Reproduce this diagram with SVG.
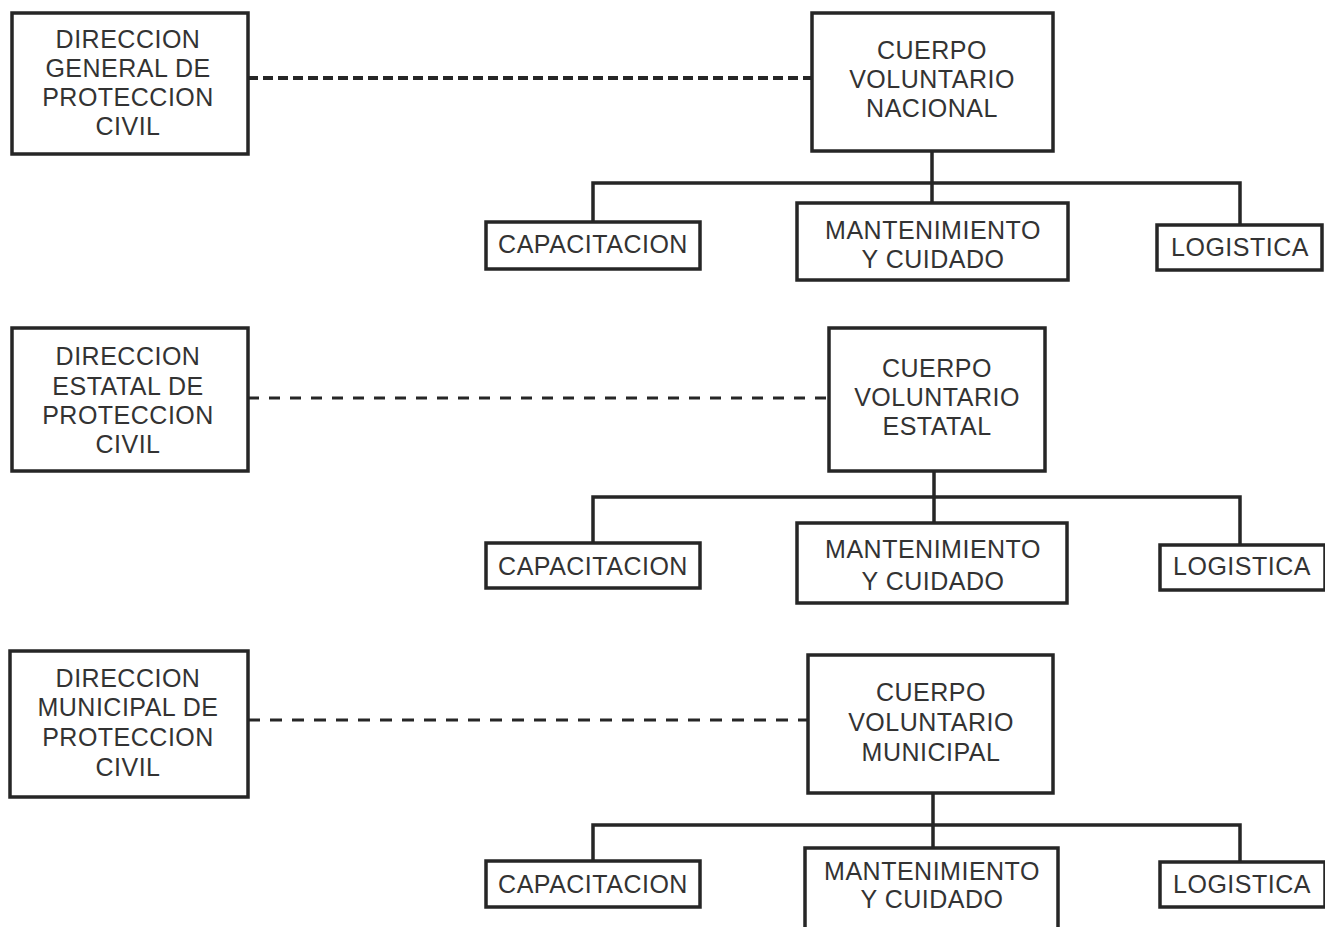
<svg xmlns="http://www.w3.org/2000/svg" width="1325" height="927" viewBox="0 0 1325 927">
<style>
.box{fill:#fff;stroke:#262626;stroke-width:3.5}
.t{font-family:"Liberation Sans",Arial,sans-serif;font-size:25px;letter-spacing:0.5px;fill:#333;text-anchor:middle;dominant-baseline:central}
.ln{fill:none;stroke:#262626;stroke-width:3.5}
.d1{fill:none;stroke:#262626;stroke-width:4;stroke-dasharray:10 5}
.d2{fill:none;stroke:#262626;stroke-width:3;stroke-dasharray:11 10}
.d3{fill:none;stroke:#262626;stroke-width:3;stroke-dasharray:12 10}
</style>
<rect width="1325" height="927" fill="#fff"/>
<g id="connectors">
<line class="d1" x1="248" y1="78" x2="812" y2="78"/>
<path class="ln" d="M932 151V183M593 222V183H1240V225M932 183V203"/>
<line class="d2" x1="248" y1="398" x2="829" y2="398"/>
<path class="ln" d="M934 471V497M593 543V497H1240V545M934 497V523"/>
<line class="d3" x1="248" y1="720" x2="808" y2="720"/>
<path class="ln" d="M933 793V825M593 861V825H1240V862M933 825V848"/>
</g>
<g id="dir-general"><rect class="box" x="12" y="13" width="236" height="141"/>
<text class="t"><tspan x="128" y="39">DIRECCION</tspan><tspan x="128" y="68">GENERAL DE</tspan><tspan x="128" y="97">PROTECCION</tspan><tspan x="128" y="126">CIVIL</tspan></text></g>
<g id="cuerpo-nacional"><rect class="box" x="812" y="13" width="241" height="138"/>
<text class="t"><tspan x="932" y="50">CUERPO</tspan><tspan x="932" y="79">VOLUNTARIO</tspan><tspan x="932" y="108">NACIONAL</tspan></text></g>
<g id="cap-1"><rect class="box" x="486" y="222" width="214" height="47"/><text class="t" x="593" y="244">CAPACITACION</text></g>
<g id="mant-1"><rect class="box" x="797" y="203" width="271" height="77"/><text class="t"><tspan x="933" y="230">MANTENIMIENTO</tspan><tspan x="933" y="259">Y CUIDADO</tspan></text></g>
<g id="log-1"><rect class="box" x="1157" y="225" width="165" height="45"/><text class="t" x="1240" y="247">LOGISTICA</text></g>

<g id="dir-estatal"><rect class="box" x="12" y="328" width="236" height="143"/>
<text class="t"><tspan x="128" y="356">DIRECCION</tspan><tspan x="128" y="386">ESTATAL DE</tspan><tspan x="128" y="415">PROTECCION</tspan><tspan x="128" y="444">CIVIL</tspan></text></g>
<g id="cuerpo-estatal"><rect class="box" x="829" y="328" width="216" height="143"/>
<text class="t"><tspan x="937" y="368">CUERPO</tspan><tspan x="937" y="397">VOLUNTARIO</tspan><tspan x="937" y="426">ESTATAL</tspan></text></g>
<g id="cap-2"><rect class="box" x="486" y="543" width="214" height="45"/><text class="t" x="593" y="566">CAPACITACION</text></g>
<g id="mant-2"><rect class="box" x="797" y="523" width="270" height="80"/><text class="t"><tspan x="933" y="549">MANTENIMIENTO</tspan><tspan x="933" y="581">Y CUIDADO</tspan></text></g>
<g id="log-2"><rect class="box" x="1160" y="545" width="165" height="45"/><text class="t" x="1242" y="566">LOGISTICA</text></g>

<g id="dir-municipal"><rect class="box" x="10" y="651" width="238" height="146"/>
<text class="t"><tspan x="128" y="678">DIRECCION</tspan><tspan x="128" y="707">MUNICIPAL DE</tspan><tspan x="128" y="737">PROTECCION</tspan><tspan x="128" y="767">CIVIL</tspan></text></g>
<g id="cuerpo-municipal"><rect class="box" x="808" y="655" width="245" height="138"/>
<text class="t"><tspan x="931" y="692">CUERPO</tspan><tspan x="931" y="722">VOLUNTARIO</tspan><tspan x="931" y="752">MUNICIPAL</tspan></text></g>
<g id="cap-3"><rect class="box" x="486" y="861" width="214" height="46"/><text class="t" x="593" y="884">CAPACITACION</text></g>
<g id="mant-3"><rect class="box" x="805" y="848" width="253" height="82"/><text class="t"><tspan x="932" y="871">MANTENIMIENTO</tspan><tspan x="932" y="899">Y CUIDADO</tspan></text></g>
<g id="log-3"><rect class="box" x="1160" y="862" width="165" height="45"/><text class="t" x="1242" y="884">LOGISTICA</text></g>
</svg>
